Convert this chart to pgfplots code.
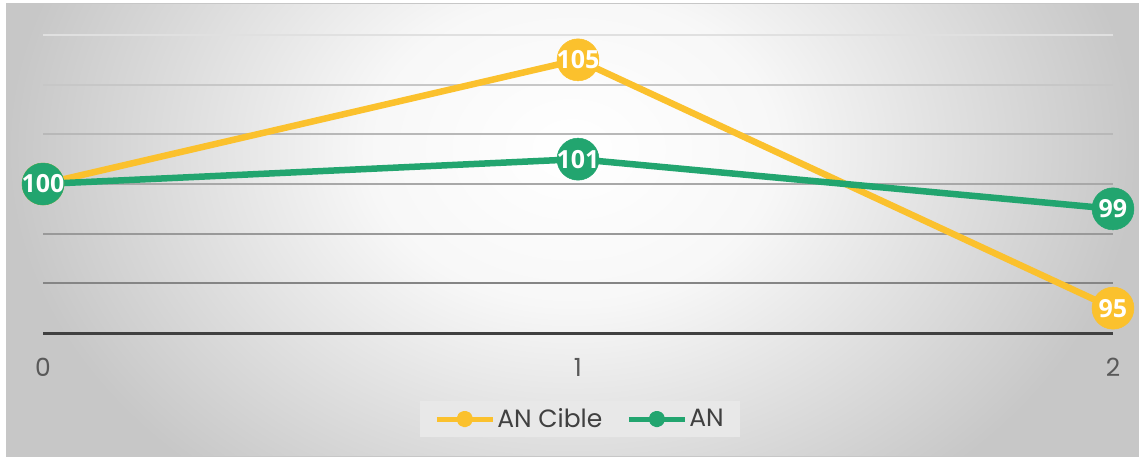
\documentclass[border=0pt]{standalone}
\usepackage{fontspec}
\setmainfont{Poppins}
\newfontfamily\labelfont{Open Sans}
\usepackage{pgfplots}
\pgfplotsset{compat=1.18}
\definecolor{cy}{HTML}{FBC12D}
\definecolor{cg}{HTML}{22A56F}
\definecolor{tickc}{HTML}{595959}
\definecolor{legc}{HTML}{404040}
\pgfdeclareradialshading{bgshade}{\pgfpointorigin}{color(0bp)=(white); color(9bp)=(white!97!black); color(25bp)=(white!78!black); color(50bp)=(white!78!black)}
\begin{document}
\begin{tikzpicture}[x=1pt,y=1pt]
\fill[white] (0,0) rectangle (1142,459);
\begin{scope}
\clip (6,3) rectangle (1138,455);
\shade[shading=bgshade] (6,-120) rectangle (1138,740);
\end{scope}
\draw[white!78!black, line width=1pt] (6,3) rectangle (1138,455);
\begin{axis}[
  at={(43pt,126pt)}, anchor=south west,
  scale only axis, width=1070pt, height=298pt,
  xmin=0, xmax=2, ymin=94, ymax=106,
  axis y line=none, axis x line*=bottom,
  x axis line style={line width=3pt, color=black!75, -},
  xtick={0,1,2}, ytick=\empty, major tick length=0pt,
  xticklabel style={anchor=center, yshift=-34pt, font=\fontsize{25}{28}\selectfont, text=tickc},
  /pgf/number format/assume math mode=true,
  clip=false,
  nodes near coords,
  every node near coord/.append style={anchor=center, text=white, font=\labelfont\bfseries\fontsize{25}{28}\selectfont},
  legend style={at={(0.5019,-0.2886)}, anchor=center, legend columns=2, fill=white!91!black, draw=none,
    font=\fontsize{25}{28}\selectfont, text=legc, inner xsep=14pt, inner ysep=6pt,
    /tikz/every even column/.append style={column sep=22pt}},
  legend cell align=left,
]
\draw[line width=2pt, white!88!black] (axis cs:0,106) -- (axis cs:2,106);
\draw[line width=2pt, white!78!black] (axis cs:0,104) -- (axis cs:2,104);
\draw[line width=2pt, white!72!black] (axis cs:0,102) -- (axis cs:2,102);
\draw[line width=2pt, white!66!black] (axis cs:0,100) -- (axis cs:2,100);
\draw[line width=2pt, white!60!black] (axis cs:0,98) -- (axis cs:2,98);
\draw[line width=2pt, white!52!black] (axis cs:0,96) -- (axis cs:2,96);
\addplot[cy, line width=6.5pt, line join=round, mark=*, mark size=21pt,
  mark options={line width=0.5pt, fill=cy, draw=cy},
  legend image code/.code={\draw[line width=5pt, cy] (0pt,0pt) -- (56pt,0pt); \fill[cy] (28pt,0pt) circle (5pt);}]
  coordinates {(0,100) (1,105) (2,95)};
\addlegendentry{AN Cible}
\addplot[cg, line width=6.5pt, line join=round, mark=*, mark size=21pt,
  mark options={line width=0.5pt, fill=cg, draw=cg},
  legend image code/.code={\draw[line width=5pt, cg] (0pt,0pt) -- (56pt,0pt); \fill[cg] (28pt,0pt) circle (5pt);}]
  coordinates {(0,100) (1,101) (2,99)};
\addlegendentry{AN}
\end{axis}
\pgfresetboundingbox
\useasboundingbox (0,0) rectangle (1142,459);
\end{tikzpicture}
\end{document}
